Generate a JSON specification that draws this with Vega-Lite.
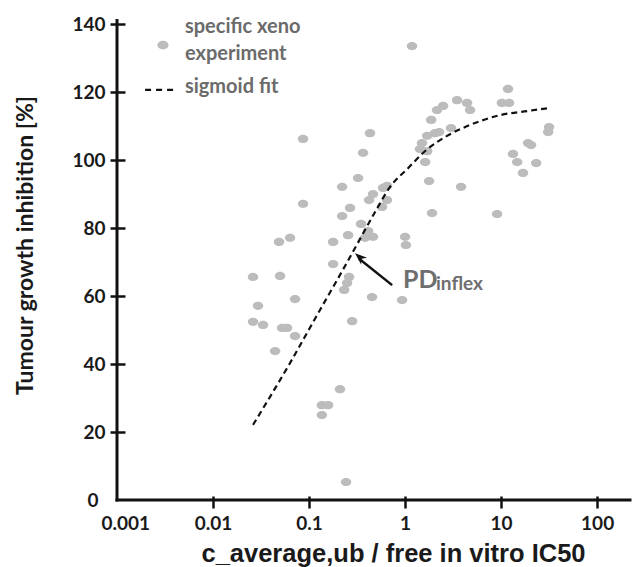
{
  "$schema": "https://vega.github.io/schema/vega-lite/v6.json",
  "width": 513,
  "height": 476,
  "autosize": {"type": "none"},
  "padding": {"left": 117, "top": 24, "right": 2, "bottom": 67},
  "background": "white",
  "config": {
    "view": {"stroke": null},
    "axis": {"grid": false}
  },
  "datasets": {
    "experiments": [
      {"ratio": 1.18, "tgi": 133.5}, {"ratio": 11.8, "tgi": 120.9}, {"ratio": 10.2, "tgi": 116.8},
      {"ratio": 12.1, "tgi": 116.8}, {"ratio": 3.48, "tgi": 117.6}, {"ratio": 4.42, "tgi": 116.8},
      {"ratio": 4.75, "tgi": 114.7}, {"ratio": 2.49, "tgi": 115.9}, {"ratio": 2.15, "tgi": 114.7},
      {"ratio": 1.87, "tgi": 111.8}, {"ratio": 3.01, "tgi": 109.4}, {"ratio": 2.26, "tgi": 108.2},
      {"ratio": 2.05, "tgi": 107.9}, {"ratio": 1.70, "tgi": 107.1}, {"ratio": 1.50, "tgi": 105.0},
      {"ratio": 1.43, "tgi": 103.2}, {"ratio": 1.70, "tgi": 102.6}, {"ratio": 1.62, "tgi": 99.4},
      {"ratio": 1.78, "tgi": 93.8}, {"ratio": 3.83, "tgi": 92.1}, {"ratio": 1.91, "tgi": 84.4},
      {"ratio": 9.08, "tgi": 84.1}, {"ratio": 31.6, "tgi": 109.7}, {"ratio": 30.9, "tgi": 108.2},
      {"ratio": 19.1, "tgi": 105.0}, {"ratio": 20.5, "tgi": 104.4}, {"ratio": 13.3, "tgi": 101.8},
      {"ratio": 14.7, "tgi": 99.4}, {"ratio": 23.2, "tgi": 99.1}, {"ratio": 16.9, "tgi": 96.2},
      {"ratio": 0.431, "tgi": 107.9}, {"ratio": 0.365, "tgi": 102.1}, {"ratio": 0.324, "tgi": 94.7},
      {"ratio": 0.221, "tgi": 92.1}, {"ratio": 0.590, "tgi": 91.8}, {"ratio": 0.649, "tgi": 92.4},
      {"ratio": 0.464, "tgi": 90.0}, {"ratio": 0.422, "tgi": 88.2}, {"ratio": 0.649, "tgi": 88.2},
      {"ratio": 0.576, "tgi": 86.2}, {"ratio": 0.267, "tgi": 85.9}, {"ratio": 0.221, "tgi": 83.5},
      {"ratio": 0.348, "tgi": 81.2}, {"ratio": 0.412, "tgi": 79.1}, {"ratio": 0.383, "tgi": 77.1},
      {"ratio": 0.464, "tgi": 77.4}, {"ratio": 0.255, "tgi": 77.9}, {"ratio": 0.178, "tgi": 75.9},
      {"ratio": 1.00, "tgi": 77.4}, {"ratio": 1.02, "tgi": 75.0}, {"ratio": 0.178, "tgi": 69.4},
      {"ratio": 0.261, "tgi": 65.6}, {"ratio": 0.249, "tgi": 63.8}, {"ratio": 0.232, "tgi": 61.8},
      {"ratio": 0.453, "tgi": 59.7}, {"ratio": 0.931, "tgi": 58.8}, {"ratio": 0.281, "tgi": 52.6},
      {"ratio": 0.0866, "tgi": 106.2}, {"ratio": 0.0866, "tgi": 87.1}, {"ratio": 0.0487, "tgi": 75.9},
      {"ratio": 0.0634, "tgi": 77.1}, {"ratio": 0.0261, "tgi": 65.6}, {"ratio": 0.0499, "tgi": 65.9},
      {"ratio": 0.0294, "tgi": 57.1}, {"ratio": 0.0715, "tgi": 59.1}, {"ratio": 0.0261, "tgi": 52.4},
      {"ratio": 0.0332, "tgi": 51.5}, {"ratio": 0.0524, "tgi": 50.6}, {"ratio": 0.0590, "tgi": 50.6},
      {"ratio": 0.0715, "tgi": 48.2}, {"ratio": 0.0443, "tgi": 43.8}, {"ratio": 0.210, "tgi": 32.6},
      {"ratio": 0.136, "tgi": 27.9}, {"ratio": 0.158, "tgi": 27.9}, {"ratio": 0.136, "tgi": 25.0},
      {"ratio": 0.243, "tgi": 5.3}
    ],
    "sigmoid": [
      {"ratio": 0.0261, "tgi": 22.1}, {"ratio": 0.0634, "tgi": 40.3}, {"ratio": 0.130, "tgi": 55.9},
      {"ratio": 0.196, "tgi": 64.7}, {"ratio": 0.301, "tgi": 74.1}, {"ratio": 0.487, "tgi": 84.7},
      {"ratio": 0.698, "tgi": 92.1}, {"ratio": 1.075, "tgi": 97.6}, {"ratio": 1.66, "tgi": 102.9},
      {"ratio": 2.74, "tgi": 107.1}, {"ratio": 4.75, "tgi": 110.3}, {"ratio": 9.77, "tgi": 113.2},
      {"ratio": 18.7, "tgi": 114.4}, {"ratio": 32.4, "tgi": 115.3}
    ],
    "single": [{}]
  },
  "layer": [
    {
      "data": {"name": "experiments"},
      "mark": {
        "type": "point",
        "filled": true,
        "shape": "M-1,0A1,0.78,0,1,0,1,0A1,0.78,0,1,0,-1,0Z",
        "size": 110,
        "color": "#bcbcbc",
        "opacity": 1
      },
      "encoding": {
        "x": {
          "field": "ratio",
          "type": "quantitative",
          "scale": {"type": "log", "domain": [0.001, 220], "nice": false},
          "axis": {
            "values": [0.001, 0.01, 0.1, 1, 10, 100],
            "format": "~g",
            "domain": false,
            "offset": -4,
            "tickSize": 12,
            "tickWidth": 2.5,
            "tickColor": {"condition": {"test": "datum.value <= 0.001", "value": "transparent"}, "value": "#111111"},
            "labelPadding": 6,
            "labelFlush": true,
            "labelFlushOffset": 16,
            "labelOverlap": false,
            "labelFont": "Lato",
            "labelFontWeight": "bold",
            "labelFontSize": 19,
            "labelColor": "#1a1a1a",
            "title": "c_average,ub / free in vitro IC50",
            "titleFont": "Liberation Sans",
            "titleFontWeight": "bold",
            "titleFontSize": 25.5,
            "titleColor": "#1a1a1a",
            "titleX": 276,
            "titleY": 65,
            "titleAlign": "center",
            "titleBaseline": "alphabetic"
          }
        },
        "y": {
          "field": "tgi",
          "type": "quantitative",
          "scale": {"domain": [0, 140], "nice": false},
          "axis": {
            "values": [0, 20, 40, 60, 80, 100, 120, 140],
            "domain": false,
            "offset": -8,
            "tickSize": 15,
            "tickWidth": 2.5,
            "tickColor": {"condition": {"test": "datum.value === 0", "value": "transparent"}, "value": "#111111"},
            "labelPadding": {"condition": {"test": "datum.value === 0", "value": 12}, "value": 5},
            "labelFont": "Lato",
            "labelFontWeight": "bold",
            "labelFontSize": 19,
            "labelColor": "#1a1a1a",
            "title": "Tumour growth inhibition [%]",
            "titleFont": "Lato",
            "titleFontWeight": "bold",
            "titleFontSize": 23,
            "titleColor": "#1a1a1a",
            "titleAngle": 270,
            "titleX": -93,
            "titleY": 221,
            "titleAlign": "center",
            "titleBaseline": "alphabetic"
          }
        }
      }
    },
    {
      "data": {"name": "sigmoid"},
      "mark": {"type": "line", "color": "#111111", "strokeWidth": 2.2, "strokeDash": [6, 4], "interpolate": "monotone"},
      "encoding": {
        "x": {"field": "ratio", "type": "quantitative"},
        "y": {"field": "tgi", "type": "quantitative"}
      }
    },
    {
      "data": {"name": "single"},
      "mark": {"type": "rule", "color": "#111111", "strokeWidth": 3, "strokeCap": "square"},
      "encoding": {
        "x": {"datum": 0.001, "type": "quantitative"},
        "y": {"datum": 0, "type": "quantitative"},
        "y2": {"datum": 141}
      }
    },
    {
      "data": {"name": "single"},
      "mark": {"type": "rule", "color": "#111111", "strokeWidth": 3, "strokeCap": "square"},
      "encoding": {
        "x": {"datum": 0.001, "type": "quantitative"},
        "x2": {"datum": 220},
        "y": {"datum": 0, "type": "quantitative"}
      }
    },
    {
      "data": {"name": "single"},
      "mark": {
        "type": "point",
        "filled": true,
        "shape": "M-1,0A1,0.78,0,1,0,1,0A1,0.78,0,1,0,-1,0Z",
        "size": 125,
        "color": "#bcbcbc",
        "opacity": 1
      },
      "encoding": {
        "x": {"datum": 0.00301, "type": "quantitative"},
        "y": {"datum": 133.8, "type": "quantitative"}
      }
    },
    {
      "data": {"name": "single"},
      "mark": {
        "type": "text",
        "align": "left",
        "baseline": "alphabetic",
        "font": "Lato",
        "fontWeight": "bold",
        "fontSize": 20,
        "lineHeight": 27,
        "color": "#6b6b6b",
        "text": ["specific xeno", "experiment"]
      },
      "encoding": {
        "x": {"datum": 0.0051, "type": "quantitative"},
        "y": {"datum": 137.4, "type": "quantitative"}
      }
    },
    {
      "data": {"name": "single"},
      "mark": {
        "type": "text",
        "align": "left",
        "baseline": "alphabetic",
        "font": "Lato",
        "fontWeight": "bold",
        "fontSize": 20,
        "color": "#6b6b6b",
        "text": "sigmoid fit"
      },
      "encoding": {
        "x": {"datum": 0.0051, "type": "quantitative"},
        "y": {"datum": 119.7, "type": "quantitative"}
      }
    },
    {
      "data": {"name": "single"},
      "mark": {"type": "rule", "color": "#111111", "strokeWidth": 2.2, "strokeDash": [6, 5]},
      "encoding": {
        "x": {"datum": 0.00196, "type": "quantitative"},
        "x2": {"datum": 0.00402},
        "y": {"datum": 120.6, "type": "quantitative"}
      }
    },
    {
      "data": {"name": "single"},
      "mark": {"type": "rule", "color": "#111111", "strokeWidth": 2.5},
      "encoding": {
        "x": {"datum": 0.733, "type": "quantitative"},
        "y": {"datum": 63.2, "type": "quantitative"},
        "x2": {"datum": 0.33},
        "y2": {"datum": 71.0}
      }
    },
    {
      "data": {"name": "single"},
      "mark": {
        "type": "point",
        "filled": true,
        "shape": "M0,0L0.6,1.6L0,1.15L-0.6,1.6Z",
        "size": 225,
        "angle": 311,
        "color": "#111111",
        "opacity": 1
      },
      "encoding": {
        "x": {"datum": 0.301, "type": "quantitative"},
        "y": {"datum": 72.6, "type": "quantitative"}
      }
    },
    {
      "data": {"name": "single"},
      "mark": {
        "type": "text",
        "align": "left",
        "baseline": "alphabetic",
        "font": "Lato",
        "fontWeight": "bold",
        "fontSize": 25,
        "color": "#6e6e6e",
        "text": "PD"
      },
      "encoding": {
        "x": {"datum": 0.953, "type": "quantitative"},
        "y": {"datum": 62.4, "type": "quantitative"}
      }
    },
    {
      "data": {"name": "single"},
      "mark": {
        "type": "text",
        "align": "left",
        "baseline": "alphabetic",
        "font": "Lato",
        "fontWeight": "bold",
        "fontSize": 19,
        "color": "#6e6e6e",
        "text": "inflex"
      },
      "encoding": {
        "x": {"datum": 2.10, "type": "quantitative"},
        "y": {"datum": 61.8, "type": "quantitative"}
      }
    }
  ]
}
